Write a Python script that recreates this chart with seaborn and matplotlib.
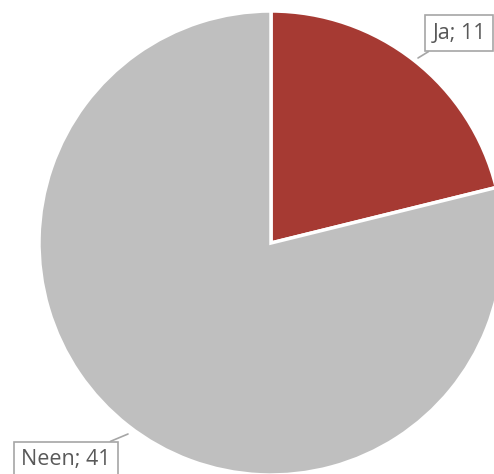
import matplotlib
matplotlib.use("Agg")
import matplotlib.pyplot as plt
import seaborn as sns

# data
labels = ["Ja", "Neen"]
values = [11, 41]
colors = ["#A63A33", "#BFBFBF"]

sns.set_style("white")
plt.rcParams['font.family'] = ['Open Sans', 'DejaVu Sans']

fig = plt.figure(figsize=(4.94, 4.74), dpi=100)
ax = fig.add_axes([0, 0, 1, 1])
ax.set_aspect('equal')
ax.axis('off')

ax.pie(values, colors=colors, startangle=90, counterclock=False,
       center=(271, 231), radius=232,
       wedgeprops=dict(edgecolor='white', linewidth=2.5))
ax.set_xlim(0, 494)
ax.set_ylim(0, 474)

box = dict(boxstyle='square,pad=0.35', facecolor='white', edgecolor='#A6A6A6', linewidth=1.2)
arrow = dict(arrowstyle='-', color='#A6A6A6', linewidth=1.2, shrinkA=0, shrinkB=0)

ax.annotate(f"{labels[0]}; {values[0]}", xy=(418, 416), xytext=(459, 441),
            ha='center', va='center', fontsize=15.5, color='#595959',
            bbox=box, arrowprops=arrow)
ax.annotate(f"{labels[1]}; {values[1]}", xy=(128, 40), xytext=(66, 14),
            ha='center', va='center', fontsize=15.5, color='#595959',
            bbox=box, arrowprops=arrow)

fig.savefig("out.png", dpi=100)
